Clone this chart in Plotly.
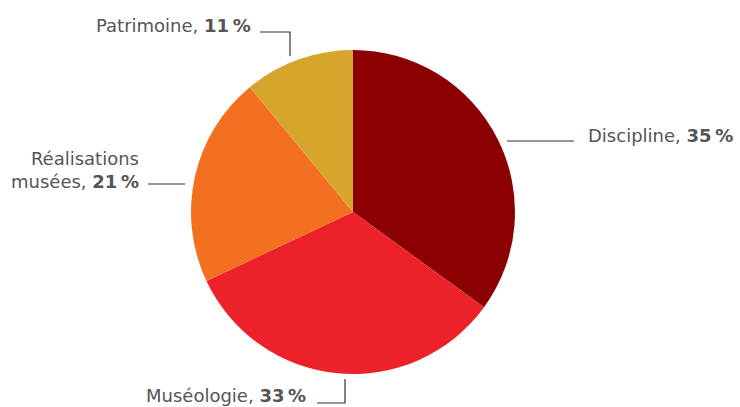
import plotly.graph_objects as go

categories = ["Discipline", "Muséologie", "Réalisations musées", "Patrimoine"]
values = [35, 33, 21, 11]
colors = ["#8B0000", "#EC2129", "#F37021", "#D6A52C"]
label_html = [
    "Discipline, <b>35\u2009%</b>",
    "Muséologie, <b>33\u2009%</b>",
    "Réalisations<br>musées, <b>21\u2009%</b>",
    "Patrimoine, <b>11\u2009%</b>",
]

W, H = 740, 407
cx, cy, r = 353, 212, 162

fig = go.Figure(go.Pie(
    labels=categories, values=values, sort=False, direction="clockwise",
    rotation=0, marker=dict(colors=colors, line=dict(width=0)),
    textinfo="none", hoverinfo="label+percent", showlegend=False,
    domain=dict(x=[(cx - r) / W, (cx + r) / W], y=[1 - (cy + r) / H, 1 - (cy - r) / H]),
))

# label layout (pixel positions of text anchor and leader polyline)
label_layout = [
    dict(x=586, y=135, xanchor="left", align="left", line=[(507, 141), (574, 141)]),
    dict(x=308, y=395, xanchor="right", align="right", line=[(317, 403), (345, 403), (345, 379)]),
    dict(x=141, y=170, xanchor="right", align="right", line=[(148, 184), (185, 184)]),
    dict(x=253, y=25, xanchor="right", align="right", line=[(260, 32), (290, 32), (290, 56)]),
]

def px(x, y):
    return x / W, 1 - y / H

for txt, lay in zip(label_html, label_layout):
    ax, ay = px(lay["x"], lay["y"])
    fig.add_annotation(x=ax, y=ay, xref="paper", yref="paper", text=txt, showarrow=False,
                       xanchor=lay["xanchor"], yanchor="middle", align=lay["align"],
                       font=dict(family="DejaVu Sans", size=18, color="#555555"))
    pts = lay["line"]
    path = "M " + " L ".join(f"{px(x, y)[0]},{px(x, y)[1]}" for x, y in pts)
    fig.add_shape(type="path", path=path, xref="paper", yref="paper",
                  line=dict(color="#333333", width=1.2))

fig.update_layout(width=W, height=H, margin=dict(l=0, r=0, t=0, b=0),
                  paper_bgcolor="white", plot_bgcolor="white")
fig.write_html("out.html", config={"displayModeBar": False},
               post_script="document.body.style.margin='0';document.body.style.overflow='hidden';")
